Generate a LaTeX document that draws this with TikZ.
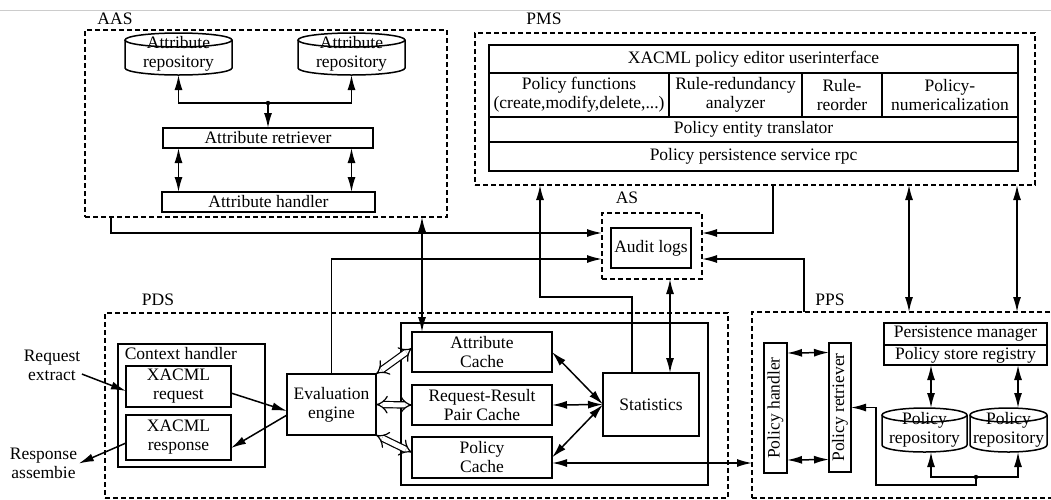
\documentclass[tikz,border=0pt]{standalone}
\usepackage{fontspec}
\setmainfont{Liberation Serif}
\usetikzlibrary{arrows.meta,positioning}

% outline of a repository drum round a named node: node, half width
\newcommand\repoline[2]{%
  \draw ([yshift=-7pt]#1.north) ellipse [x radius=#2, y radius=7pt];
  \draw ([yshift=-7pt]#1.north west) -- ([yshift=7pt]#1.south west)
    arc [start angle=180, end angle=360, x radius=#2, y radius=7pt]
    -- ([yshift=-7pt]#1.north east);}

\begin{document}
\begin{tikzpicture}[
  x=1pt, y=-1pt,
  font=\fontsize{17.5}{19}\selectfont,
  line width=1.5pt,
  box/.style={draw, inner sep=1pt, outer sep=0pt, align=center},
  group/.style={draw, line width=1.4pt, dash pattern=on 5pt off 3pt, inner sep=0pt, outer sep=0pt},
  repo/.style={inner sep=0pt, outer sep=0pt, align=center},
  arr/.style={-{Latex[length=15pt,width=8pt]}},
  darr/.style={{Latex[length=15pt,width=8pt]}-{Latex[length=15pt,width=8pt]}},
  hollow/.style={double, double distance=5pt, line width=1.2pt, {Implies[scale=1.2]}-{Implies[scale=1.2]}}]
  \useasboundingbox (0,0) rectangle (1051,499);
  \clip (0,0) rectangle (1051,499);
  \draw[black!20, line width=0.8pt] (0,10) -- (1051,10);

  % Attribute authority service
  \node[group, minimum width=362, minimum height=187] (aas) at (266,123.5) {};
  \node (aaslbl) at (115,19) {AAS};
  \node[repo, minimum width=107, minimum height=42] (arep1) at (178.5,54) {Attribute\\repository};
  \node[repo, minimum width=107, minimum height=42] (arep2) at (351.5,54) {Attribute\\repository};
  \repoline{arep1}{53.5pt}
  \repoline{arep2}{53.5pt}
  \node[box, minimum width=210, minimum height=20] (aretr) at (268,138) {Attribute retriever};
  \node[box, minimum width=213, minimum height=20] (ahand) at (268.5,202) {Attribute handler};
  % retriever fans out to both repositories
  \coordinate (aasj) at (268,103);
  \draw[arr] (aasj) -| (arep1.south);
  \draw[arr] (aasj) -| (arep2.south);
  \draw[arr] (aasj) -- (aretr.north);
  \fill (aasj) circle (2.2pt);
  \draw[darr] (arep1.south |- aretr.south) -- (arep1.south |- ahand.north);
  \draw[darr] (arep2.south |- aretr.south) -- (arep2.south |- ahand.north);

  % Policy management service
  \node[group, minimum width=560, minimum height=152] (pms) at (755,109) {};
  \node (pmslbl) at (544,19) {PMS};
  \node[box, minimum width=529, minimum height=28] (pui) at (753.5,59) {XACML policy editor userinterface};
  \node[box, minimum width=180, minimum height=44, below right=0pt of pui.south west] (pfun) {Policy functions\\(create,modify,delete,...)};
  \node[box, minimum width=133, minimum height=44, right=0pt of pfun] (prr) {Rule-redundancy\\analyzer};
  \node[box, minimum width=80, minimum height=44, right=0pt of prr] (pro) {Rule-\\reorder};
  \node[box, minimum width=136, minimum height=44, right=0pt of pro] (pnum) {Policy-\\numericalization};
  \node[box, minimum width=529, minimum height=25, below right=0pt of pfun.south west] (pet) {Policy entity translator};
  \node[box, minimum width=529, minimum height=29, below=0pt of pet] (prpc) {Policy persistence service rpc};

  % Audit service
  \node[group, minimum width=100, minimum height=66] (as) at (652,246) {};
  \node (aslbl) at (627,198) {AS};
  \node[box, minimum width=80, minimum height=40] (alog) at (651,248) {Audit logs};

  % Policy decision service
  \node[group, minimum width=623, minimum height=185] (pds) at (416.5,405.5) {};
  \node (pdslbl) at (158,300) {PDS};
  \node[box, minimum width=147, minimum height=123] (ctx) at (191.5,405.5) {};
  \node[anchor=north west, inner sep=1pt] (ctxlbl) at ([xshift=5pt,yshift=-2pt]ctx.north west) {Context handler};
  \node[box, minimum width=105, minimum height=41] (xreq) at (178.5,386.5) {XACML\\request};
  \node[box, minimum width=105, minimum height=45] (xresp) at (178.5,437.5) {XACML\\response};
  \node[box, minimum width=89, minimum height=61] (eng) at (331.5,404.5) {Evaluation\\engine};
  \node[align=center, inner sep=1pt] (reqx) at (52,365) {Request\\extract};
  \node[align=center, inner sep=1pt] (rspa) at (43.5,463.5) {Response\\assembie};
  \node[draw, minimum width=307, minimum height=162] (cbox) at (554.5,404) {};
  \node[box, minimum width=140, minimum height=40] (acache) at (482,352) {Attribute\\Cache};
  \node[box, minimum width=140, minimum height=40] (rcache) at (482,405) {Request-Result\\Pair Cache};
  \node[box, minimum width=140, minimum height=41] (pcache) at (482,457.5) {Policy\\Cache};
  \node[box, minimum width=96, minimum height=63] (stat) at (651,404.5) {Statistics};
  % request / response flow
  \draw[arr] ([yshift=8pt]reqx.south east) -- ([yshift=-4.5pt]xreq.west);
  \draw[arr] ([yshift=-6.5pt]xreq.east) -- ([yshift=-6.5pt]eng.west);
  \draw[arr] ([yshift=-10.5pt]eng.west) -- ([yshift=-10.5pt]xresp.east);
  \draw[arr] ([yshift=-5.5pt]xresp.west) -- (rspa.east);
  \draw[hollow] (eng.north east) -- ([yshift=4pt]acache.west);
  \draw[hollow] (eng.east) -- (rcache.west);
  \draw[hollow] (eng.south east) -- ([yshift=5pt]pcache.west);
  \draw[darr] (acache.east) -- (stat.west);
  \draw[darr] (rcache.east) -- (stat.west);
  \draw[darr] (pcache.east) -- (stat.west);

  % Policy persistence service
  \node[group, minimum width=320, minimum height=186] (pps) at (912,405) {};
  \node (ppslbl) at (830,300) {PPS};
  \node[box, minimum width=23, minimum height=130] (phand) at (775.5,408) {\rotatebox{90}{Policy handler}};
  \node[box, minimum width=22, minimum height=129] (pret) at (840,407.5) {\rotatebox{90}{Policy retriever}};
  \node[box, minimum width=163, minimum height=22] (pman) at (965.5,334) {Persistence manager};
  \node[box, minimum width=163, minimum height=20, below=0pt of pman] (preg) {Policy store registry};
  \node[repo, minimum width=85, minimum height=44] (prep1) at (924.5,430) {Policy\\repository};
  \node[repo, minimum width=77, minimum height=44] (prep2) at (1008.5,430) {Policy\\repository};
  \repoline{prep1}{42.5pt}
  \repoline{prep2}{38.5pt}
  \draw[darr] ([yshift=55pt]phand.east) -- ([yshift=55pt]pret.west);
  \draw[darr] ([yshift=-52pt]phand.east) -- ([yshift=-52pt]pret.west);
  \coordinate (pa1) at ([xshift=47pt]preg.south west);
  \coordinate (pa2) at ([xshift=-29pt]preg.south east);
  \draw[darr] (pa1) -- (pa1 |- prep1.north);
  \draw[darr] (pa2) -- (pa2 |- prep2.north);
  % repositories report back to the retriever
  \coordinate (ppsj) at (976,477);
  \coordinate (ppsk) at (876,485);
  \draw[arr] (ppsj) -| (pa1 |- prep1.south);
  \draw[arr] (ppsj) -| (pa2 |- prep2.south);
  \fill (ppsj) circle (2.2pt);
  \draw[arr] (ppsj) |- (ppsk) |- (pret.east);

  % links between the services
  \coordinate (aasout) at ([xshift=26pt]aas.south west);
  \coordinate (aasin) at ([xshift=156pt]aas.south);
  \coordinate (pmsin) at ([xshift=65pt]pms.south west);
  \coordinate (pmsout) at ([xshift=298pt]pms.south west);
  \coordinate (pmsa) at ([xshift=434pt]pms.south west);
  \coordinate (pmsb) at ([xshift=542pt]pms.south west);
  \coordinate (ppsout) at ([xshift=52pt]pps.north west);
  \coordinate (pcout) at ([yshift=-5.5pt]pcache.east);
  \draw[arr] (aasout) |- ([yshift=13pt]as.west);
  \draw[arr] (eng.north) |- ([yshift=-13pt]as.west);
  \draw[arr] (pmsout) |- ([yshift=13pt]as.east);
  \draw[arr] (ppsout) |- ([yshift=-13pt]as.east);
  \draw[darr] (aasin) -- (aasin |- acache.north);
  \draw[arr] ([xshift=-19pt]stat.north) -- ++(0,-76) -| (pmsin);
  \draw[darr] ([xshift=18pt]as.south) -- ([xshift=19pt]stat.north);
  \draw[darr] (pcout) -- (pcout -| pps.west);
  \draw[darr] (pmsa) -- (pmsa |- pps.north);
  \draw[darr] (pmsb) -- (pmsb |- pps.north);
\end{tikzpicture}
\end{document}
